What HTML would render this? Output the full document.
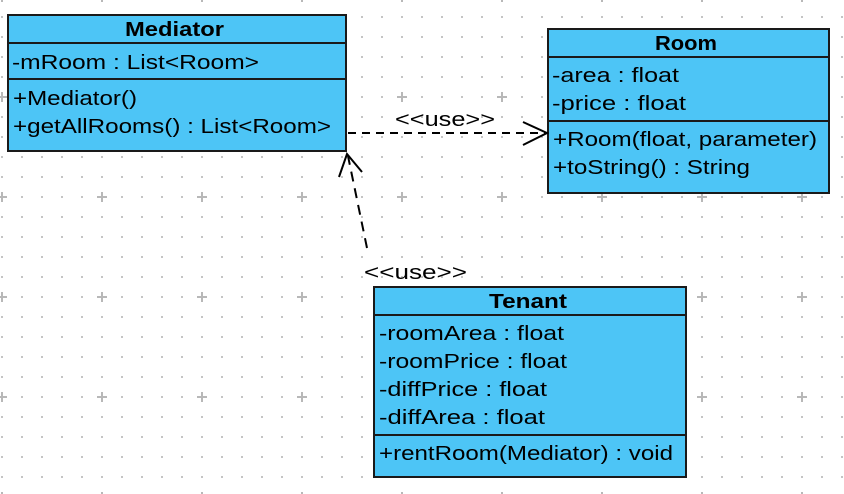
<!DOCTYPE html>
<html><head><meta charset="utf-8"><style>
html,body{margin:0;padding:0;background:#fff;}
svg{display:block;}
text{font-family:"Liberation Sans","DejaVu Sans",sans-serif;font-size:20px;fill:#000;}
.b{font-weight:bold;}
</style></head><body>
<svg width="844" height="494" viewBox="0 0 844 494" xmlns="http://www.w3.org/2000/svg">
<defs>
<pattern id="dots" x="1" y="-4" width="20" height="20" patternUnits="userSpaceOnUse">
<rect x="0" y="0" width="2" height="2" fill="#c4c4c4"/>
</pattern>
<pattern id="plus" x="-3" y="-8" width="100" height="100" patternUnits="userSpaceOnUse">
<rect x="0" y="4" width="10" height="2" fill="#b8b8b8"/>
<rect x="4" y="0" width="2" height="10" fill="#b8b8b8"/>
</pattern>
</defs>
<rect width="844" height="494" fill="url(#dots)"/>
<rect width="844" height="494" fill="url(#plus)"/>

<!-- Mediator -->
<rect x="8" y="15" width="338" height="136" fill="#4dc5f6" stroke="#1a1a1a" stroke-width="2"/>
<line x1="8" y1="43" x2="346" y2="43" stroke="#1a1a1a" stroke-width="2"/>
<line x1="8" y1="79" x2="346" y2="79" stroke="#1a1a1a" stroke-width="2"/>
<text class="b" x="125" y="36" textLength="99" lengthAdjust="spacingAndGlyphs">Mediator</text>
<text x="12" y="69" textLength="247" lengthAdjust="spacingAndGlyphs">-mRoom : List&lt;Room&gt;</text>
<text x="13" y="105" textLength="124" lengthAdjust="spacingAndGlyphs">+Mediator()</text>
<text x="13" y="133" textLength="318" lengthAdjust="spacingAndGlyphs">+getAllRooms() : List&lt;Room&gt;</text>

<!-- Room -->
<rect x="548" y="29" width="281" height="164" fill="#4dc5f6" stroke="#1a1a1a" stroke-width="2"/>
<line x1="548" y1="57" x2="829" y2="57" stroke="#1a1a1a" stroke-width="2"/>
<line x1="548" y1="121" x2="829" y2="121" stroke="#1a1a1a" stroke-width="2"/>
<text class="b" x="655" y="50" textLength="62" lengthAdjust="spacingAndGlyphs">Room</text>
<text x="552" y="82" textLength="127" lengthAdjust="spacingAndGlyphs">-area : float</text>
<text x="552" y="110" textLength="134" lengthAdjust="spacingAndGlyphs">-price : float</text>
<text x="553" y="146" textLength="264" lengthAdjust="spacingAndGlyphs">+Room(float, parameter)</text>
<text x="553" y="174" textLength="197" lengthAdjust="spacingAndGlyphs">+toString() : String</text>

<!-- Tenant -->
<rect x="374" y="287" width="312" height="190" fill="#4dc5f6" stroke="#1a1a1a" stroke-width="2"/>
<line x1="374" y1="315" x2="686" y2="315" stroke="#1a1a1a" stroke-width="2"/>
<line x1="374" y1="435" x2="686" y2="435" stroke="#1a1a1a" stroke-width="2"/>
<text class="b" x="489" y="308" textLength="78" lengthAdjust="spacingAndGlyphs">Tenant</text>
<text x="379" y="340" textLength="185" lengthAdjust="spacingAndGlyphs">-roomArea : float</text>
<text x="379" y="368" textLength="188" lengthAdjust="spacingAndGlyphs">-roomPrice : float</text>
<text x="379" y="396" textLength="168" lengthAdjust="spacingAndGlyphs">-diffPrice : float</text>
<text x="379" y="424" textLength="166" lengthAdjust="spacingAndGlyphs">-diffArea : float</text>
<text x="379" y="460" textLength="294" lengthAdjust="spacingAndGlyphs">+rentRoom(Mediator) : void</text>

<!-- Mediator -> Room -->
<line x1="348" y1="133" x2="546" y2="133" stroke="#000" stroke-width="2" stroke-dasharray="8,6"/>
<polyline points="523,122 547,133 523,145" fill="none" stroke="#000" stroke-width="2"/>
<text x="395" y="126" textLength="100" lengthAdjust="spacingAndGlyphs">&lt;&lt;use&gt;&gt;</text>

<!-- Tenant -> Mediator -->
<line x1="367" y1="248" x2="348" y2="156" stroke="#000" stroke-width="2" stroke-dasharray="10,7"/>
<polyline points="339,177 347,154 362,172" fill="none" stroke="#000" stroke-width="2"/>
<text x="364" y="279" textLength="103" lengthAdjust="spacingAndGlyphs">&lt;&lt;use&gt;&gt;</text>
</svg>
</body></html>
